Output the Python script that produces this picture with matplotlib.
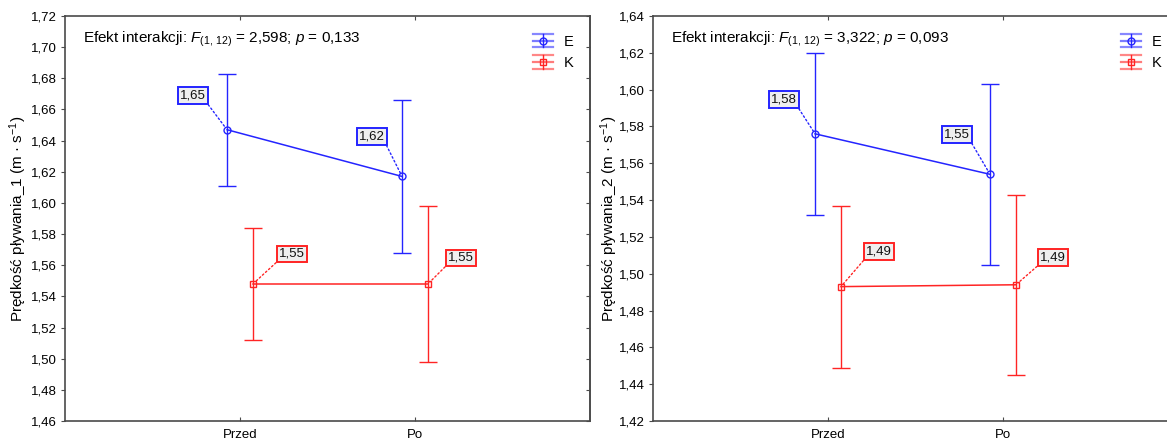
import matplotlib
matplotlib.use("Agg")
import matplotlib.pyplot as plt
from matplotlib.ticker import FuncFormatter, MultipleLocator
from matplotlib.legend_handler import HandlerBase
from matplotlib.container import ErrorbarContainer
from matplotlib.lines import Line2D

plt.rcParams['font.family'] = ['Liberation Sans', 'DejaVu Sans']
plt.rcParams['mathtext.fontset'] = 'custom'
plt.rcParams['mathtext.rm'] = 'Liberation Sans'
plt.rcParams['mathtext.it'] = 'Liberation Sans:italic'

# Measurement occasions and groups
periods = ['Przed', 'Po']
groups = ['E', 'K']

# Swimming speed 1: means and 95% CI half-widths
speed1_E = [1.647, 1.617]
speed1_E_ci = [0.036, 0.049]
speed1_K = [1.548, 1.548]
speed1_K_ci = [0.036, 0.050]

# Swimming speed 2: means and 95% CI half-widths
speed2_E = [1.576, 1.554]
speed2_E_ci = [0.044, 0.049]
speed2_K = [1.493, 1.494]
speed2_K_ci = [0.044, 0.049]

ylabels = ['Prędkość pływania_1 (m · s$^{-1}$)', 'Prędkość pływania_2 (m · s$^{-1}$)']
stats_text = [
    'Efekt interakcji: $F_{(1,\\,12)}$ = 2,598; $p$ = 0,133',
    'Efekt interakcji: $F_{(1,\\,12)}$ = 3,322; $p$ = 0,093',
]
ylims = [(1.46, 1.72), (1.42, 1.64)]

BLUE = '#2424ff'
RED = '#ff2424'
SPINE = '#4a4a4a'
W, H = 1167, 441


class HandlerCappedBar(HandlerBase):
    """Legend key: full-width caps and centre line, a vertical bar and the marker."""

    def create_artists(self, legend, orig_handle, xdescent, ydescent, width, height,
                       fontsize, trans):
        line = orig_handle.lines[0]
        col = line.get_color()
        x0, y0 = -xdescent, -ydescent
        xc, yc = x0 + width / 2, y0 + height / 2
        half = height * 0.65
        arts = []
        for y, a in ((yc - half, 0.55), (yc, 0.6), (yc + half, 0.55)):
            arts.append(Line2D([x0, x0 + width], [y, y], color=col, lw=1.6, alpha=a))
        arts.append(Line2D([xc, xc], [yc - half, yc + half], color=col, lw=1.0))
        arts.append(Line2D([xc], [yc], marker=line.get_marker(), ms=5, mfc='none',
                           mec=col, mew=1.0, ls='none'))
        for a in arts:
            a.set_transform(trans)
        return arts


fig = plt.figure(figsize=(W / 100, H / 100), dpi=100)
ax_w, ax_h = 525 / W, 405 / H
ax_bottom = (H - 421) / H
axes = [fig.add_axes([65 / W, ax_bottom, ax_w, ax_h]),
        fig.add_axes([653 / W, ax_bottom, ax_w, ax_h])]

comma = FuncFormatter(lambda v, _: f"{v:.2f}".replace('.', ','))

panels = [
    (speed1_E, speed1_E_ci, speed1_K, speed1_K_ci,
     [(-34, 34), (-30, 40)], [(39, 30), (33, 26)]),
    (speed2_E, speed2_E_ci, speed2_K, speed2_K_ci,
     [(-31, 34), (-33, 40)], [(38, 35), (37, 27)]),
]

shift = 0.074
base_x = list(range(len(periods)))

for i, (ax, (mE, cE, mK, cK, offE, offK)) in enumerate(zip(axes, panels)):
    xE = [x - shift for x in base_x]
    xK = [x + shift for x in base_x]
    ax.errorbar(xE, mE, yerr=cE, color=BLUE, ecolor=BLUE, lw=1.1, elinewidth=1.0,
                capsize=6.5, capthick=1.0, marker='o', ms=5, mfc='none', mec=BLUE,
                mew=1.0, label=groups[0], zorder=3)
    ax.errorbar(xK, mK, yerr=cK, color=RED, ecolor=RED, lw=1.1, elinewidth=1.0,
                capsize=6.5, capthick=1.0, marker='s', ms=5, mfc='none', mec=RED,
                mew=1.0, label=groups[1], zorder=3)

    # value labels with dotted leaders
    for xs, ms_, offs, col, rel in ((xE, mE, offE, BLUE, (1, 0)), (xK, mK, offK, RED, (0, 0))):
        for x, m, (dx, dy) in zip(xs, ms_, offs):
            ax.annotate(f"{m:.2f}".replace('.', ','), xy=(x, m), xytext=(dx, dy),
                        textcoords='offset pixels', ha='center', va='center',
                        fontsize=9.5, color='#111111',
                        bbox=dict(boxstyle='square,pad=0.18', fc='#efefef', ec=col, lw=1.4),
                        arrowprops=dict(arrowstyle='-', color=col, ls=(0, (1.2, 1.8)), lw=1.0,
                                        relpos=rel, shrinkA=0, shrinkB=2),
                        zorder=4)

    ax.set_xlim(-1, 2)
    ax.set_ylim(*ylims[i])
    ax.set_xticks(base_x)
    ax.set_xticklabels(periods, fontsize=9.5)
    ax.yaxis.set_major_locator(MultipleLocator(0.02))
    ax.yaxis.set_major_formatter(comma)
    ax.tick_params(axis='y', direction='out', length=3, width=0.8, color=SPINE,
                   labelsize=9.5, pad=3, right=False)
    ax.tick_params(axis='x', direction='in', length=3, width=0.8, color=SPINE,
                   labelsize=9.5, pad=6, top=True)
    sec = ax.secondary_yaxis('right')
    sec.yaxis.set_major_locator(MultipleLocator(0.02))
    sec.tick_params(direction='in', length=3, width=0.8, color=SPINE, labelright=False)
    sec.spines['right'].set_color(SPINE)
    sec.spines['right'].set_linewidth(1.2)
    for sp in ax.spines.values():
        sp.set_color(SPINE)
        sp.set_linewidth(1.2)

    ax.set_ylabel(ylabels[i], fontsize=11)
    ax.yaxis.set_label_coords(-0.068 if i == 0 else -0.063, 0.5)
    ax.text(0.034, 0.943, stats_text[i], transform=ax.transAxes, fontsize=11,
            ha='left', va='center')

    ax.legend(loc='upper right', bbox_to_anchor=(0.985, 0.975), frameon=False,
              fontsize=10.5, handlelength=1.4, handletextpad=0.7, labelspacing=0.5,
              borderaxespad=0.2, handler_map={ErrorbarContainer: HandlerCappedBar()})

fig.savefig('out.png', dpi=100)
